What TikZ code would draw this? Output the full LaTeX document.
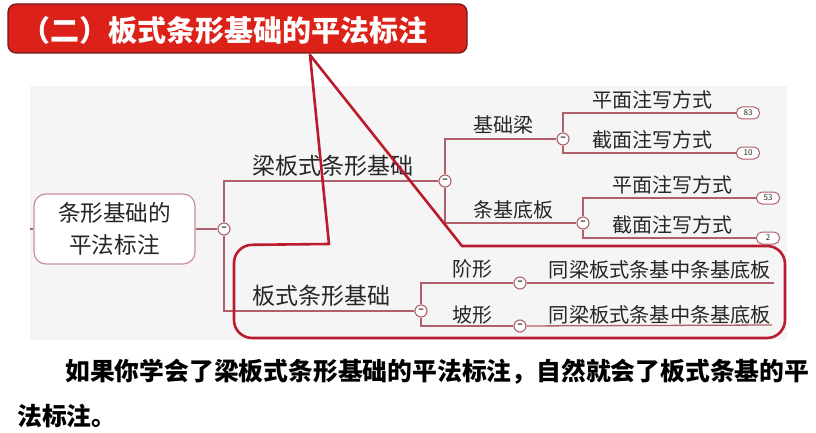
\documentclass[tikz,border=0pt]{standalone}
\usepackage{fontspec}
\setmainfont{Noto Sans CJK SC}
\usetikzlibrary{positioning, calc}
\definecolor{titlered}{HTML}{DC2119}
\definecolor{titleedge}{HTML}{6E1A1A}
\definecolor{calloutred}{HTML}{B81C2E}
\definecolor{branchred}{HTML}{B0606A}
\definecolor{panelgray}{HTML}{F5F5F6}
\definecolor{inkgray}{HTML}{262626}
\tikzset{
  titlebox/.style={rectangle, rounded corners=8pt, minimum width=459pt, minimum height=49pt, inner sep=0pt, draw=titleedge, line width=1.2pt, fill=titlered},
  titletext/.style={text=white, font=\fontsize{29}{29}\selectfont\bfseries, inner sep=0pt},
  rootbox/.style={rectangle, rounded corners=12pt, minimum width=161pt, minimum height=70pt, inner sep=0pt, draw=branchred!70, line width=1.2pt, fill=white, align=center, text=inkgray, font=\fontsize{22.6}{32}\selectfont},
  collapse/.style={circle, minimum size=12pt, inner sep=0pt, draw=branchred, line width=1.1pt, fill=white, text=inkgray, font=\fontsize{10}{10}\selectfont\bfseries},
  badge/.style={rectangle, rounded corners=5.5pt, minimum width=23pt, minimum height=12pt, inner sep=0pt, draw=branchred, line width=1pt, fill=white, text=inkgray, font=\fontsize{8}{8}\selectfont},
  topic/.style={inner sep=0pt, text=inkgray, font=\fontsize{23}{23}\selectfont},
  subtopic/.style={inner sep=0pt, text=inkgray, font=\fontsize{20}{20}\selectfont},
  leaf/.style={inner sep=0pt, text=inkgray, font=\fontsize{20}{20}\selectfont},
  wideleaf/.style={inner sep=0pt, text=inkgray, font=\fontsize{20.2}{20.2}\selectfont},
  bodytext/.style={inner sep=0pt, anchor=west, text=black, font=\fontsize{24.8}{24.8}\selectfont\bfseries},
  branch/.style={draw=branchred, line width=1.3pt},
  callout/.style={draw=calloutred, line width=2.6pt, line join=round, rounded corners=0pt}
}
\begin{document}
\begin{tikzpicture}[x=1pt, y=-1pt]
\useasboundingbox (0,0) rectangle (816,433);
\fill[panelgray] (30,86) rectangle (787,340);

% titre
\node (title) [titlebox] at (237.5,28.5) {};
\node (titlelabel) [titletext] at (224.5,30) {（二）板式条形基础的平法标注};

% noeuds de la carte
\node (root) [rootbox] at (114.5,229) {条形基础的\\平法标注};
\coordinate (rootstub) at (30,229);
\node (c0) [collapse] at (224,229) {--};
\node (c1) [collapse] at (445,181) {--};
\node (c2) [collapse] at (421,311) {--};
\node (c3) [collapse] at (563,139) {--};
\node (c4) [collapse] at (583,223) {--};
\node (c5) [collapse] at (520,283) {--};
\node (c6) [collapse] at (520,326) {--};
\node (b83) [badge] at (748,113) {83};
\node (b10) [badge] at (748,153) {10};
\node (b53) [badge] at (768,198) {53};
\node (b2) [badge] at (768,238) {2};
\coordinate (end1) at (774,283);
\coordinate (end2) at (772,325);

% liaisons
\draw [branch] (rootstub) -- (root);
\draw [branch] (root) -- (c0);
\draw [branch] (c0) |- (c1);
\draw [branch] (c0) |- (c2);
\draw [branch] (c1) |- (c3);
\draw [branch] (c1) |- (c4);
\draw [branch] (c2) |- (c5);
\draw [branch] (c2) |- (c6);
\draw [branch] (c3) |- (b83);
\draw [branch] (c3) |- (b10);
\draw [branch] (c4) |- (b53);
\draw [branch] (c4) |- (b2);
\draw [branch] (c5) -- (end1);
\draw [branch] (c6) -- (end2);

% textes
\node (liangban) [topic] at (333,166) {梁板式条形基础};
\node (banshi) [topic] at (321,296) {板式条形基础};
\node (jichu) [subtopic] at (503,125) {基础梁};
\node (tiaoji) [subtopic] at (513,210) {条基底板};
\node (jie) [subtopic] at (472,269) {阶形};
\node (po) [subtopic] at (472,315) {坡形};
\node (ping1) [leaf] at (652,100) {平面注写方式};
\node (jie1) [leaf] at (652,140) {截面注写方式};
\node (ping2) [leaf] at (672,185) {平面注写方式};
\node (jie2) [leaf] at (672,225) {截面注写方式};
\node (tong1) [wideleaf] at (660,270) {同梁板式条基中条基底板};
\node (tong2) [wideleaf] at (660,315) {同梁板式条基中条基底板};

% cadre rouge
\coordinate (tip) at (310,55);
\coordinate (elbow) at (329,244);
\coordinate (tipfoot) at (462,246);
\draw [callout] (tip) -- (elbow) [rounded corners=18pt] -- (234,245) -- (234,338) -- (785,338) -- (785,246) [rounded corners=0pt] -- (tipfoot) -- cycle;

% texte du bas
\node (body1) [bodytext] at (65,372) {如果你学会了梁板式条形基础的平法标注，自然就会了板式条基的平};
\node (body2) [bodytext] at (17,416) {法标注。};
\end{tikzpicture}
\end{document}
